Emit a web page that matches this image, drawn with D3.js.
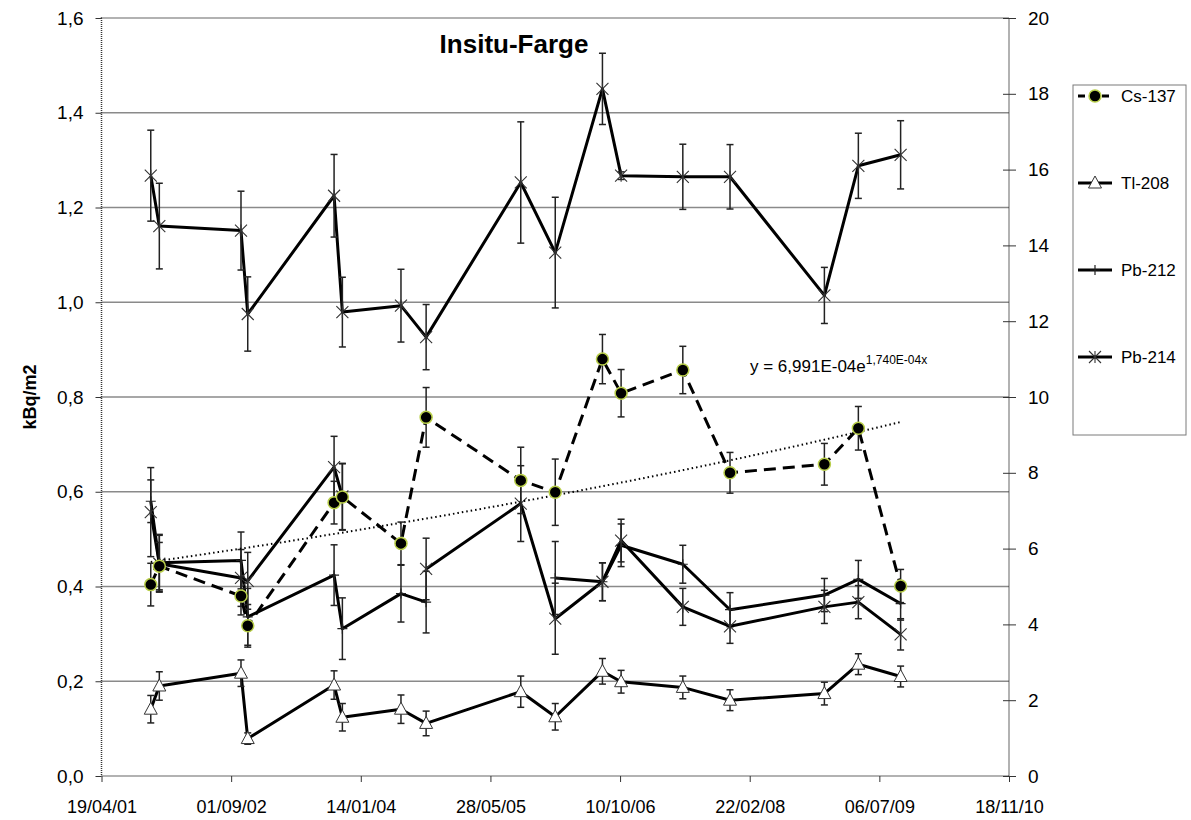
<!DOCTYPE html>
<html>
<head>
<meta charset="utf-8">
<script src="https://cdn.jsdelivr.net/npm/d3@7"></script>
<style>
  body { margin: 0; background: #fff; }
  svg text { font-family: "Liberation Sans", Arial, sans-serif; fill: #000; }
</style>
</head>
<body>
<svg id="chart" width="1191" height="820"></svg>
<script>
// Sampling dates shared by all series
const sampleDates = ["2001-10-26","2001-11-28","2002-10-09","2002-11-04","2003-10-03","2003-11-04",
  "2004-06-17","2004-09-22","2005-09-22","2006-02-02","2006-08-03","2006-10-14",
  "2007-06-09","2007-12-08","2008-12-06","2009-04-16","2009-09-26"];

// Left axis series (kBq/m2) with their uncertainties
const cs137    = [0.404,0.443,0.380,0.317,0.577,0.589,0.491,0.757,0.624,0.599,0.880,0.808,0.857,0.640,0.658,0.734,0.401];
const cs137Err = [0.045,0.050,0.040,0.045,0.045,0.070,0.045,0.063,0.070,0.070,0.052,0.050,0.050,0.043,0.044,0.046,0.035];
const tl208    = [0.141,0.190,0.217,0.079,0.192,0.124,0.141,0.111,0.178,0.125,0.221,0.199,0.187,0.160,0.174,0.236,0.210];
const tl208Err = [0.029,0.030,0.028,0.012,0.030,0.029,0.030,0.026,0.033,0.028,0.027,0.024,0.024,0.022,0.024,0.022,0.022];
const pb212    = [0.580,0.450,0.455,0.336,0.424,0.311,0.385,0.367,null,0.418,0.410,0.487,0.447,0.351,0.382,0.415,0.364];
const pb212Err = [0.045,0.060,0.060,0.060,0.064,0.065,0.060,0.065,null,0.077,0.040,0.045,0.040,0.036,0.035,0.040,0.035];
const pb214    = [0.557,0.448,0.418,0.412,0.652,0.590,null,0.437,0.575,0.332,0.410,0.497,0.357,0.316,0.357,0.367,0.299];
const pb214Err = [0.094,0.060,0.060,0.060,0.065,0.070,null,0.065,0.080,0.075,0.040,0.045,0.039,0.036,0.035,0.035,0.033];

// Right axis series with its uncertainties
const secondary    = [15.84,14.51,14.39,12.19,15.31,12.24,12.41,11.58,15.66,13.81,18.13,15.84,15.81,15.81,12.68,16.10,16.39];
const secondaryErr = [1.20,1.13,1.04,0.98,1.09,0.92,0.96,0.86,1.60,1.46,0.94,0.10,0.86,0.85,0.74,0.86,0.90];

// Exponential trend fitted on Cs-137 (x = spreadsheet date serial)
const trendA = 6.991e-4;
const trendB = 1.740e-4;

// Axis ticks
const xTickDates  = ["2001-04-19","2002-09-01","2004-01-14","2005-05-28","2006-10-10","2008-02-22","2009-07-06","2010-11-18"];
const leftTicks   = [0,0.2,0.4,0.6,0.8,1.0,1.2,1.4,1.6];
const rightTicks  = [0,2,4,6,8,10,12,14,16,18,20];

const parse = d3.utcParse("%Y-%m-%d");
const dates = sampleDates.map(parse);
const xTicks = xTickDates.map(parse);

const svg = d3.select("#chart");
const plot = { left: 101.5, right: 1009, top: 18, bottom: 776 };

const x  = d3.scaleUtc().domain([xTicks[0], xTicks[xTicks.length - 1]]).range([plot.left, plot.right]);
const yL = d3.scaleLinear().domain([0, 1.6]).range([plot.bottom, plot.top]);
const yR = d3.scaleLinear().domain([0, 20]).range([plot.bottom, plot.top]);

const comma1 = v => d3.format(".1f")(v).replace(".", ",");

// Horizontal gridlines
svg.append("g").selectAll("line")
  .data(leftTicks.filter(v => v > 0 && v < 1.6))
  .join("line")
  .attr("x1", plot.left).attr("x2", plot.right)
  .attr("y1", d => yL(d)).attr("y2", d => yL(d))
  .attr("stroke", "#8a8a8a").attr("stroke-width", 1.5);

// Plot frame (dotted)
svg.append("rect")
  .attr("x", plot.left).attr("y", plot.top)
  .attr("width", plot.right - plot.left).attr("height", plot.bottom - plot.top)
  .attr("fill", "none").attr("stroke", "#333").attr("stroke-width", 1.5)
  .attr("stroke-dasharray", "1,1");

// Left axis
const leftAxis = svg.append("g").attr("transform", `translate(${plot.left},0)`)
  .call(d3.axisLeft(yL).tickValues(leftTicks).tickSize(6).tickPadding(12).tickFormat(comma1));
leftAxis.select(".domain").remove();
leftAxis.selectAll("line").attr("stroke", "#333");
leftAxis.selectAll("text").attr("font-size", 19).style("font-family", "'Liberation Sans', Arial, sans-serif");

// Right axis (ticks cross the axis line)
const rightAxis = svg.append("g").attr("transform", `translate(${plot.right},0)`)
  .call(d3.axisRight(yR).tickValues(rightTicks).tickSize(7).tickPadding(12).tickFormat(d3.format("d")));
rightAxis.select(".domain").remove();
rightAxis.selectAll(".tick line").attr("x1", -6).attr("stroke", "#333");
rightAxis.selectAll("text").attr("font-size", 19).style("font-family", "'Liberation Sans', Arial, sans-serif");

// Bottom axis
const bottomAxis = svg.append("g").attr("transform", `translate(0,${plot.bottom})`)
  .call(d3.axisBottom(x).tickValues(xTicks).tickSize(6).tickPadding(18).tickFormat(d3.utcFormat("%d/%m/%y")));
bottomAxis.select(".domain").remove();
bottomAxis.selectAll("line").attr("stroke", "#333");
bottomAxis.selectAll("text").attr("font-size", 18).style("font-family", "'Liberation Sans', Arial, sans-serif");

// Left axis title
svg.append("text")
  .attr("transform", "translate(36,397) rotate(-90)")
  .attr("text-anchor", "middle")
  .attr("font-size", 18).attr("font-weight", "bold")
  .text("kBq/m2");

// Chart title
svg.append("text")
  .attr("x", 514).attr("y", 53)
  .attr("text-anchor", "middle")
  .attr("font-size", 26).attr("font-weight", "bold")
  .text("Insitu-Farge");

// Marker shapes
const markerDraw = {
  circle: (g) => g.append("circle").attr("r", 6).attr("fill", "#000").attr("stroke", "#b9cf4a").attr("stroke-width", 1.5),
  triangle: (g) => g.append("path").attr("d", "M0,-7L6.5,5L-6.5,5Z").attr("fill", "#fff").attr("stroke", "#333").attr("stroke-width", 1),
  plus: (g) => g.append("path").attr("d", "M-5,0H5M0,-5V5").attr("fill", "none").attr("stroke", "#222").attr("stroke-width", 1.2),
  star: (g) => g.append("path").attr("d", "M-6,-6L6,6M-6,6L6,-6M0,-6V6").attr("fill", "none").attr("stroke", "#333").attr("stroke-width", 1.1)
};

function drawSeries(values, errors, yScale, opts) {
  const pts = values.map((v, i) => ({ d: dates[i], v, e: errors[i] }));
  const g = svg.append("g");
  const line = d3.line()
    .defined(p => p.v != null)
    .x(p => x(p.d)).y(p => yScale(p.v));
  g.append("path").datum(pts)
    .attr("d", line)
    .attr("fill", "none").attr("stroke", "#000")
    .attr("stroke-width", 3).attr("stroke-linejoin", "round")
    .attr("stroke-dasharray", opts.dash || null);

  const valid = pts.filter(p => p.v != null);
  const eb = g.append("g").attr("stroke", "#222").attr("stroke-width", 1.5);
  valid.forEach(p => {
    const cx = x(p.d), y1 = yScale(p.v + p.e), y2 = yScale(p.v - p.e);
    eb.append("line").attr("x1", cx).attr("x2", cx).attr("y1", y1).attr("y2", y2);
    eb.append("line").attr("x1", cx - 3.5).attr("x2", cx + 3.5).attr("y1", y1).attr("y2", y1);
    eb.append("line").attr("x1", cx - 3.5).attr("x2", cx + 3.5).attr("y1", y2).attr("y2", y2);
  });

  valid.forEach(p => {
    const m = g.append("g").attr("transform", `translate(${x(p.d)},${yScale(p.v)})`);
    markerDraw[opts.marker](m);
  });
}

drawSeries(secondary, secondaryErr, yR, { marker: "star" });
drawSeries(tl208, tl208Err, yL, { marker: "triangle" });
drawSeries(pb212, pb212Err, yL, { marker: "plus" });
drawSeries(pb214, pb214Err, yL, { marker: "star" });

// Exponential trendline for Cs-137
const excelEpoch = Date.UTC(1899, 11, 30);
const serial = d => (d.getTime() - excelEpoch) / 864e5;
const trendPts = d3.range(0, 101).map(k => {
  const t0 = dates[0].getTime(), t1 = dates[dates.length - 1].getTime();
  const d = new Date(t0 + (t1 - t0) * k / 100);
  return { d, v: trendA * Math.exp(trendB * serial(d)) };
});
svg.append("path").datum(trendPts)
  .attr("d", d3.line().x(p => x(p.d)).y(p => yL(p.v)))
  .attr("fill", "none").attr("stroke", "#000").attr("stroke-width", 2)
  .attr("stroke-dasharray", "1.5,3");

drawSeries(cs137, cs137Err, yL, { marker: "circle", dash: "12,7" });

// Trend equation
const eq = svg.append("text").attr("x", 750).attr("y", 372).attr("font-size", 17);
eq.append("tspan").text("y = " + trendA.toExponential(3).replace(".", ",").replace("e-", "E-0") + "e");
eq.append("tspan").attr("font-size", 12).attr("dy", -8)
  .text(trendB.toExponential(3).replace(".", ",").replace("e-", "E-0") + "x");

// Legend
const legendItems = [
  { name: "Cs-137", marker: "circle", dash: "7,5" },
  { name: "Tl-208", marker: "triangle" },
  { name: "Pb-212", marker: "plus" },
  { name: "Pb-214", marker: "star" }
];
const legend = svg.append("g");
legend.append("rect")
  .attr("x", 1073).attr("y", 85).attr("width", 113).attr("height", 350)
  .attr("fill", "#fff").attr("stroke", "#7a7a7a").attr("stroke-width", 1);
legendItems.forEach((it, i) => {
  const ly = 96 + i * 87;
  legend.append("line")
    .attr("x1", 1078).attr("x2", 1112).attr("y1", ly).attr("y2", ly)
    .attr("stroke", "#000").attr("stroke-width", 3)
    .attr("stroke-dasharray", it.dash || null);
  const m = legend.append("g").attr("transform", `translate(1095,${ly})`);
  markerDraw[it.marker](m);
  legend.append("text").attr("x", 1121).attr("y", ly + 6).attr("font-size", 17).text(it.name);
});
</script>
</body>
</html>
